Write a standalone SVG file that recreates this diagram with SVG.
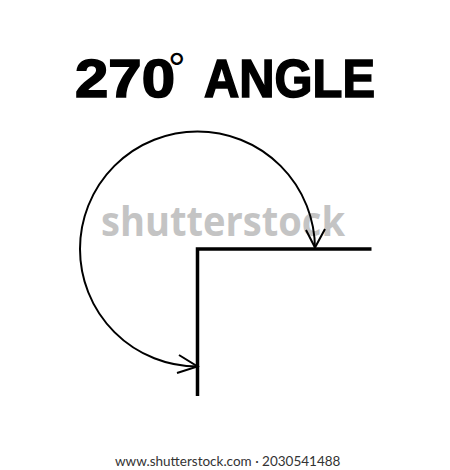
<svg xmlns="http://www.w3.org/2000/svg" width="450" height="470" viewBox="0 0 450 470">
<style>
.title{font-family:"Liberation Sans",Arial,sans-serif;font-weight:bold;font-size:54px;fill:#000;stroke:#000;stroke-width:1.6}
.deg{font-family:"Liberation Sans",Arial,sans-serif;font-size:44px;fill:#000}
.arc{fill:none;stroke:#000;stroke-width:2}
.ray{fill:none;stroke:#000;stroke-width:3.5}
.wm{font-family:"Open Sans","Noto Sans",sans-serif;font-weight:bold;font-size:42px;fill:#c4c4c4}
.foot{font-family:Lato,"Open Sans",sans-serif;font-size:13.5px;fill:#333}
</style>
<rect width="450" height="470" fill="#fff"/>
<g id="title">
<text class="title" x="75" y="97" textLength="100" lengthAdjust="spacingAndGlyphs">270</text>
<text class="deg" x="168" y="84">°</text>
<text class="title" x="204" y="97" textLength="171" lengthAdjust="spacingAndGlyphs">ANGLE</text>
</g>
<g id="watermark">
<text class="wm" x="101" y="236" textLength="244" lengthAdjust="spacingAndGlyphs">shutterstock</text>
</g>
<g id="angle">
<polyline class="ray" points="371.5,249 197.5,249 197.5,396"/>
</g>
<g id="connectors">
<path class="arc" d="M197.5,366.5 A117.5,117.5 0 1 1 315,249"/>
<polyline class="arc" points="179,355 197.5,366.5 177,373"/>
<polyline class="arc" points="306,230 315,247.5 325,229"/>
</g>
<g id="footer">
<text class="foot" x="115" y="466">www.shutterstock.com · 2030541488</text>
</g>
</svg>
